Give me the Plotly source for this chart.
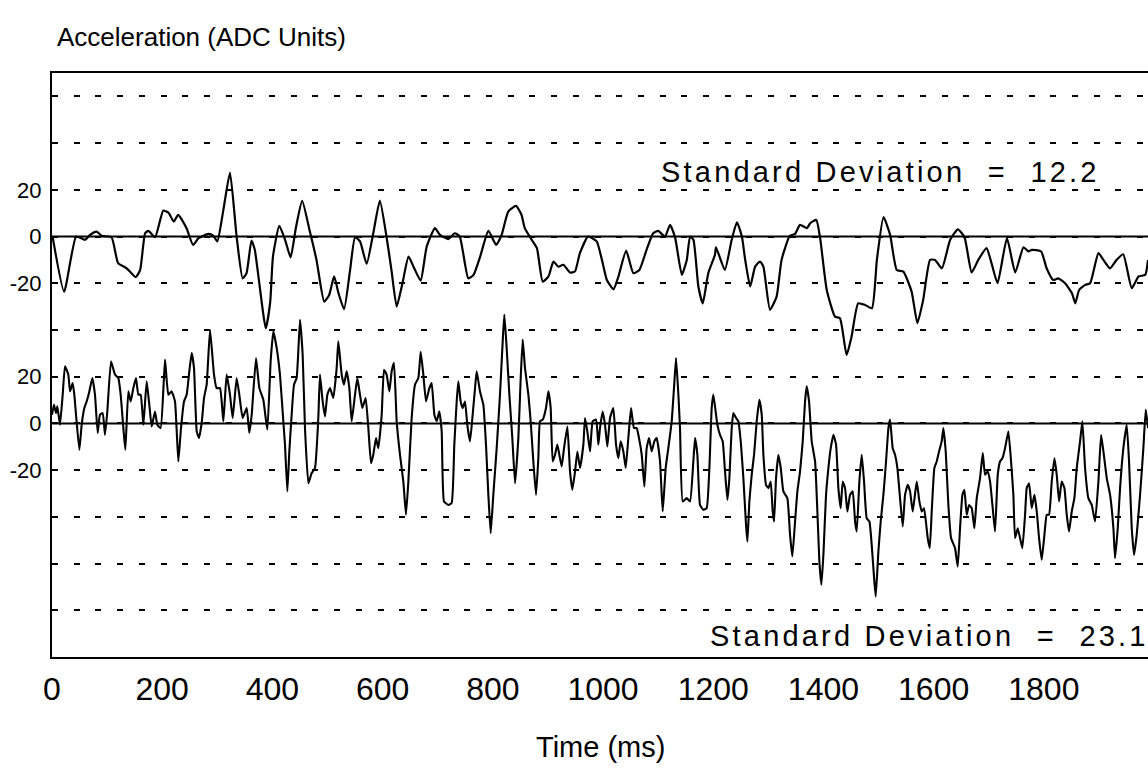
import plotly.graph_objects as go

# ---------------- data ----------------
time_top = [1, 22, 44, 60, 69, 81, 90, 108, 120, 135.5, 152, 160, 169, 175, 187, 202, 211, 221, 229, 244,
            256, 266, 284, 293, 300, 311, 323, 335, 346, 353, 362, 368, 388, 396, 401,
            412.5, 423, 433, 443, 454, 468, 480, 494, 503, 512, 520, 530, 541, 550, 559, 571, 583, 595, 607,
            616, 625.5, 636, 647, 656, 669, 680, 695, 704, 719, 731, 740, 755.5, 765, 777, 792,
            806, 816, 828, 842, 852, 858, 870.5, 880, 890.5, 901, 910, 919, 928, 940, 949, 958, 973, 988.5,
            998, 1007, 1019, 1028, 1042, 1055, 1066, 1079, 1091, 1100, 1112.5, 1121.6, 1131, 1143, 1152,
            1158, 1164, 1173, 1181, 1191, 1203,
            1205, 1221, 1233.5, 1243, 1252, 1258, 1267, 1276, 1285, 1291, 1303, 1315, 1324, 1339, 1348.5,
            1357.5, 1370, 1376, 1387, 1394, 1406, 1421, 1430, 1442, 1451, 1463, 1475.5, 1488, 1497, 1509,
            1521, 1533, 1545, 1560, 1570.5, 1581, 1593.5,
            1602.5, 1615, 1630, 1644, 1656, 1669, 1681, 1696, 1705, 1716, 1733, 1748, 1763, 1772, 1778,
            1795, 1805, 1817, 1826, 1838.5, 1851, 1857, 1864, 1875, 1884, 1899, 1908, 1920, 1932, 1944,
            1959.5, 1972, 1984, 1989]
acc_top = [0, -23.6, 0, -1.4, 0.7, 2.1, 0.3, -0.3, -11.4, -13.6, -17.4, -14.3, 1.4, 2.4, -0.3, 11.1, 10.3, 6.4, 9.3, 3.6,
           -3.6, -0.7, 1.1, 0.3, -2.1, 11.4, 27.4, 0, -17.9, -15.7, -1.7, -5.7, -39.3, -28, -8.6,
           4.6, -1.4, -8.9, 4.3, 15.3, 2.1, -10, -27.9, -25, -17.1, -24.3, -31.1, -14.3, -0.3, -2.1, -11.7, 1.4, 15.4, 0,
           -14.3, -30, -20, -8.6, -12.9, -18.9, -4.3, 3.6, 0.7, -1.1, 1.4, 0, -17.9, -16.4, -8.6, 2.4,
           -3.6, 0.7, 10.7, 13.1, 9.3, 3.6, -1.4, -5, -19.3, -17.1, -10.7, -12.9, -12.1, -15.4, -15, -7.1, 0, -2.1,
           -10, -18.6, -22.6, -17.1, -6, -15.7, -14.3, -5.7, 1.4, 2.4, 0, 5, -0.7, -16.4, -10,
           0, -1.4, -21.4, -28.6, -15.7, -7.9,
           -4.6, -14.3, -1.4, 6.1, 0, -10, -21.4, -12.9, -10.7, -12.9, -31.4, -25.7, -10, 0.3, 1.1,
           5, 3.6, 5.7, 7.1, -0.7, -22.9, -34.3, -35, -50.7, -42.9, -28.6, -29.3, -30.7, -10, 8.3,
           0.7, -14.3, -15, -23.6, -37.1, -27.1, -10,
           -10, -13.6, -1.4, 3.1, -0.3, -15.4, -10, -5, -11.4, -20, -0.7, -15.4, -4.6, -6.4, -5.7,
           -6.4, -13.6, -18.6, -17.9, -20, -24.3, -28.6, -22.9, -20.7, -20, -7.1, -10, -13.6, -10, -7.6,
           -22.1, -17.1, -16.4, -10]

time_bottom = [0, 3.6, 7.3, 9.7, 14.5, 19.4, 23.6, 29.6, 32.7, 37.5, 40.5, 43.6, 49.6, 53.8, 58.7, 62.9, 67.8,
               73.2, 78, 82.9, 87.1, 92, 96.2, 100.4, 107.1, 114.3, 120.4, 124.6, 129.5, 133.1, 138.5, 142.8,
               147.6, 152.4, 156.7, 160.9, 165.8, 171.8, 176.6, 180.9, 186.9, 191.2, 197.2, 205.1, 211.1,
               217.2, 223.2, 229.3, 234.1, 239.6, 244.4, 249.2, 253.5, 257.7, 262.6, 266.8, 271.6, 275.9,
               280.7, 286.8, 294, 298.8, 304.9, 311, 316.9, 323, 327.9, 335.1, 339.9, 346, 353.3, 358.1,
               362.4, 370.2, 376.3, 383.5, 390.8, 396.8, 401.7,
               407.7, 413.7, 419.8, 422.8, 427.1, 430.7, 434.9, 439.2, 444, 450.1, 454.9, 459.1, 465.2, 471.2,
               477.3, 483.3, 486.3, 491.2, 495.4, 499.7, 504.5, 510.5, 516.6, 519.6, 525.7, 529.9, 534.7,
               539.6, 543.8, 549.9, 554.1, 558.9, 563.2, 569.2, 574.1, 578.9, 583.1, 588, 592.2, 598.3,
               602.5, 607.3, 612.2, 616.4, 620.6, 625.5, 631.5, 637.6, 642.4, 646.7, 652.7, 658.8, 664.8,
               669.1, 673.9, 678.7, 684.8, 689, 693.9, 698.1, 702.9, 707.2, 711.4, 719.3, 725.3, 730.1,
               734.4, 737.4, 741.6, 745.3, 749.5, 753.7, 758.6, 763.4, 767.7, 770.7, 776.7, 782.8, 787.6,
               791.9, 796.1,
               800.9, 807, 813, 817.9, 820.9, 825.1, 830, 835.4, 840.3, 846.3, 850.6, 854.2, 858.4, 864.5,
               868.7, 873.5, 878.4, 882.6, 885.6, 890.5, 896.5, 900.8, 905, 908.6, 912.9, 917.1, 920.7, 925,
               929.2, 935.3, 940.1, 944.3, 949.2, 953.4, 958.2, 964.3, 967.3, 971.5, 976.4, 981.2, 987.3,
               991.5, 994.5, 999.4, 1003.6, 1007.8, 1012.7, 1018.7, 1023.6, 1027.8, 1032, 1036.9, 1041.1,
               1045.9, 1050.8, 1056.2, 1061.1, 1065.3, 1070.2, 1075, 1079.2, 1083.5, 1088.3, 1093.1, 1097.4,
               1103.4, 1108.3, 1113.7, 1118.5, 1124.6, 1128.8, 1132.5, 1136.7, 1139.7, 1144.6, 1151.8,
               1157.9, 1163.9, 1167, 1171.2, 1176, 1182.1, 1188.1, 1193, 1197.2, 1200.2,
               1207.5, 1212.3, 1217.2, 1221.4, 1225.7, 1229.3, 1233.5, 1236.5, 1241.4, 1245.6, 1249.9,
               1254.7, 1259.5, 1262, 1265.6, 1269.8, 1274.1, 1278.9, 1283.7, 1288, 1291, 1295.8, 1300.1,
               1304.3, 1307.9, 1310.4, 1314, 1318.2, 1322.5, 1327.3, 1334.5, 1339.4, 1343.6, 1348.5, 1352.7,
               1357.5, 1362.4, 1366.6, 1369.6, 1373.9, 1378.7, 1384.8, 1389, 1392.6, 1396.3, 1399.9, 1404.7,
               1409, 1413.2, 1418, 1422.9, 1427.1, 1431.3, 1435, 1439.2, 1443.4, 1448.3, 1453.1, 1457.4,
               1460.4, 1465.2, 1469.5, 1473.7, 1478.5, 1483.4, 1487.6, 1492.4, 1494.9, 1499.7, 1503.9,
               1508.8, 1513.6, 1517.9, 1520.9, 1525.7, 1529.9, 1534.2, 1539, 1543.9, 1548.1, 1552.9, 1557.2,
               1562, 1569.3, 1574.1, 1578.4, 1582.6,
               1589.2, 1592.9, 1596.5, 1601.3, 1605.6, 1609.8, 1614.6, 1617.7, 1621.9, 1626.7, 1631.6,
               1638.8, 1643.7, 1647.9, 1652.2, 1655.8, 1660, 1664.3, 1669.1, 1673.9, 1678.2, 1684.2, 1689.1,
               1693.3, 1698.1, 1702.4, 1707.2, 1711.4, 1716.3, 1720.5, 1724.8, 1729.6, 1735.6, 1740.5,
               1744.7, 1747.7, 1752.6, 1756.8, 1761, 1765.9, 1768.9, 1773.2, 1778, 1782.8, 1787.1, 1791.3,
               1796.1, 1801, 1805.2, 1809.4, 1814.3, 1819.1, 1823.4, 1827.6, 1832.4, 1837.3, 1841.5, 1845.7,
               1850.6, 1855.4, 1859.7, 1865.7, 1869.9, 1874.8, 1880.8, 1886.9, 1892.9, 1899, 1903.8, 1908.1,
               1914.1, 1920.2, 1926.2, 1929.2, 1934.1, 1938.3, 1944.3, 1950.4, 1954.6, 1959.5, 1963.7,
               1968.5, 1974.6, 1980.6, 1984.9, 1989.1]
acc_bottom = [3.7, 8, 4.4, 7.3, -0.6, 12.3, 24.4, 20.9, 13.7, 17.3, 12.3, 3.7, -11.3, -0.6, 6.6, 9.4, 13.7,
              19.4, 12.3, -4.1, 3.7, 4.4, -4.9, 5.1, 26.6, 20.9, 19.4, 12.3, -2, -11.3, 13.7, 9.4,
              15.1, 19.4, 12.3, 12.3, -0.6, 18, 8, -1.3, 5.1, -0.6, -2, 27.3, 12.3,
              13.7, 9.4, -16.3, -2, 9.4, 12.3, 22.3, 30.1, 23.7, -3.4, -6.3, 0.1, 10.9,
              16.6, 40.1, 20.9, 15.1, 15.1, 0.9, 20.9, 12.3, 2.3, 19.4, 12.3, 2.3, 6.6, -4.1,
              3.7, 28, 15.1, 10.1, -2.7, 26.6, 39.4,
              32.3, 20.9, 0.9, -9.1, -29.1, -12, 3.7, 16.6, 19.4, 44.4, 29.4, -2, -25.6, -21.3,
              -19.1, 2.3, 20.9, 9.4, 3, 12.3, 15.1, 10.9, 23.7, 35.1, 20.9, 16.6, 22.3,
              15.1, 0.9, 12.3, 19.4, 12.3, 6.6, 10.9, -2, -17, -13.4, -6.3, -10.6, 3.7,
              23, 20.9, 13.7, 22.3, 25.9, 0.9, -13.4, -24.9, -39.1, -24.9, 2.3, 16.6, 19.4,
              30.6, 20.9, 9.4, 15.1, 17.3, 3.7, 0.9, 5.1, -3.4, -33.4, -34.9, -34.1, -9.1,
              9.4, 18, 9.4, 6.6, 9.4, -0.6, -7.7, 3.7, 15.1, 22.3, 13.7, 8, -9.1,
              -30.6, -47,
              -30.6, -10.6, 12.3, 35.1, 46.6, 32.3, 12.3, -6.3, -25.6, -6.3, 19.4, 35.9, 23.7, 12.3,
              0.9, -16.3, -30.6, -14.9, 0.9, 1.6, 6.6, 13.7, 6.6, -16.3, -13.4, -9.1, -13.4, -18.4,
              -10.6, -1.3, -20.6, -28.4, -20.6, -12, -19.1, -9.1, 2.3, -3.4, -12, 0.9, 1.6,
              -9.1, -2, 5.1, -0.6, -9.9, 2.3, 6.6, -9.1, -14.9, -7.7, -12, -19.1,
              -6.3, 6.6, -2, -2, -6.3, -13.4, -27, -10.6, -6.3, -12, -7.7, -6.3,
              -16.3, -37.7, -19.1, -10.6, 0.9, 15.1, 28, 12.3, -2, -33.4, -32,
              -33.4, -16.3, -6.3, -13.4, -34.9, -37, -36.3, -19.1, 6.6, 12.3,
              -0.6, -4.9, -7.7, -20.6, -32.7, -23.4, -2, 4.4, 2.3, 0.9, -7.7,
              -23.4, -43.4, -50.6, -33.4, -22, -13.4, 0.9, 10.1, 3.7, -13.4, -26.3, -27.7,
              -24.9, -37.7, -42, -23.4, -13.4, -19.1, -29.1, -32, -47.7, -57, -42, -29.1,
              -20.6, -7.7, 9.4, 15.9, 9.4, -7.7, -16.3, -37.7, -59.1, -69.1, -56.3, -30.6,
              -19.1, -10.6, -4.9, -9.1, -27.7, -36.3, -24.9, -27.7, -37.7, -30.6, -29.1, -42,
              -46.3, -24.9, -13.4, -24.9, -40.6, -42, -52, -67.7, -74.1, -54.9, -42,
              -30.6, -16.3, -2, 1.6, -10.6, -13.4, -19.1, -32, -44.1, -30.6, -26.3, -29.1,
              -37.7, -24.9, -33.4, -37.7, -36.3,
              -49.1, -53.4, -37.7, -19.1, -16.3, -12, -7.7, -2, -12, -34.9, -49.1,
              -53.4, -61.3, -44.9, -30.6, -28.4, -39.1, -34.9, -36.3, -44.9, -32, -23.4, -12.7,
              -22, -20.6, -24.9, -36.3, -46.3, -22, -16.3, -14.9, -10.6, -3.4, -16.3,
              -30.6, -49.1, -44.9, -49.1, -53.4, -39.1, -27.7, -25.6, -36.3, -30.6, -37.7, -49.1,
              -58.4, -47.7, -39.1, -39.1, -24.9, -14.9, -22, -33.4, -24.9, -27.7, -39.1, -46.3,
              -37.7, -32, -19.1, -7.7, 0.9, -19.1, -32, -34.9, -42, -24.9, -4.9, -12,
              -23.4, -30.6, -44.9, -57.7, -44.9, -27.7, -10.6, -0.6, -16.3, -44.9, -56.3,
              -47.7, -30.6, -10.6, 5.9, -2]

top_offset = 80  # vertical offset of the upper record on the shared axis
x_tick_vals = [0, 200, 400, 600, 800, 1000, 1200, 1400, 1600, 1800]
y_tick_vals = [-80, -60, -40, -20, 0, 20, 40, 60, 80, 100, 120, 140]
y_tick_text = ["", "", "", "-20", "0", "20", "", "-20", "0", "20", "", ""]
sd_words_top = ["Standard", "Deviation", "=", "12.2"]
sd_words_bottom = ["Standard", "Deviation", "=", "23.1"]

FONT = "Liberation Sans, Arial, Helvetica, sans-serif"
NB = "\u00a0"

fig = go.Figure()
fig.add_trace(go.Scatter(x=time_top, y=[v + top_offset for v in acc_top], mode="lines",
                         line=dict(color="black", width=2.2, shape="spline", smoothing=0.5),
                         hoverinfo="skip", showlegend=False))
fig.add_trace(go.Scatter(x=time_bottom, y=acc_bottom, mode="lines",
                         line=dict(color="black", width=2.1, shape="spline", smoothing=0.4),
                         hoverinfo="skip", showlegend=False))

for base in (0, top_offset):
    fig.add_shape(type="line", xref="paper", x0=0, x1=1, yref="y", y0=base, y1=base,
                  line=dict(color="black", width=2))


def sd_label(words):
    s = words[0] + NB + words[1] + NB * 2 + words[2] + NB * 2 + words[3]
    return f'<span style="letter-spacing:3.2px">{s}</span>'


fig.add_annotation(text="Acceleration (ADC Units)", xref="paper", yref="paper",
                   x=0.003, y=1.0616, xanchor="left", yanchor="middle", showarrow=False,
                   font=dict(family=FONT, size=26, color="black"))
fig.add_annotation(text=sd_label(sd_words_top), xref="paper", yref="paper",
                   x=0.958, y=0.830, xanchor="right", yanchor="middle", showarrow=False,
                   font=dict(family=FONT, size=29, color="black"))
fig.add_annotation(text=sd_label(sd_words_bottom), xref="paper", yref="paper",
                   x=1.003, y=0.036, xanchor="right", yanchor="middle", showarrow=False,
                   font=dict(family=FONT, size=29, color="black"))
fig.add_annotation(text="Time (ms)", xref="paper", yref="paper",
                   x=0.5, y=-0.154, xanchor="center", yanchor="middle", showarrow=False,
                   font=dict(family=FONT, size=29, color="black"))

fig.update_layout(
    width=1148, height=781,
    margin=dict(l=52, r=0, t=73, b=124, pad=0),
    paper_bgcolor="white", plot_bgcolor="white",
    xaxis=dict(range=[0, 1989], tickvals=x_tick_vals, ticks="", showgrid=False, zeroline=False,
               showline=True, linecolor="black", linewidth=2, mirror=True,
               tickfont=dict(family=FONT, size=32, color="black"), ticklabelstandoff=3),
    yaxis=dict(range=[-100, 150], tickvals=y_tick_vals, ticktext=y_tick_text, ticks="",
               showgrid=True, gridcolor="black", gridwidth=2, griddash="6px,15.7px", zeroline=False,
               showline=True, linecolor="black", linewidth=2, mirror=False,
               tickfont=dict(family=FONT, size=22, color="black"), ticklabelstandoff=4),
)

fig.write_html("out.html")
